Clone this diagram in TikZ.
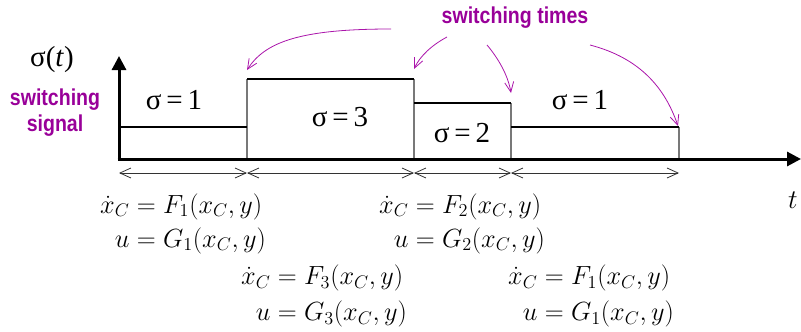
\documentclass[tikz,border=0pt]{standalone}
\usepackage{amsmath}
\usepackage{graphicx}
\usepackage[no-math]{fontspec}
\newfontfamily\serifT{Liberation Serif}
\newfontfamily\narrowsans[FakeStretch=0.85]{Liberation Sans}
\usetikzlibrary{arrows.meta}
\definecolor{sigpurple}{RGB}{153,0,153}
\definecolor{arrpurple}{RGB}{170,20,170}
\definecolor{vgray}{RGB}{120,120,120}
\newcommand{\eqpair}[2]{\scalebox{1.267}{\fontsize{20}{23.8}\selectfont$\begin{aligned}\dot x_C &= F_{#1}(x_C,y)\\[#2] u &= G_{#1}(x_C,y)\end{aligned}$}}
\tikzset{
  axisline/.style={line width=3pt,-{Triangle[length=14pt,width=14pt]}},
  levelline/.style={line width=2.6pt,line cap=butt},
  edgeline/.style={line width=1.6pt,vgray},
  spanline/.style={line width=0.8pt,black!80,{Straight Barb[length=11pt,width=10pt]}-{Straight Barb[length=11pt,width=10pt]}},
  tarrow/.style={line width=0.8pt,arrpurple,-{Straight Barb[length=10pt,width=9pt]}},
  purpletext/.style={font=\narrowsans\bfseries\fontsize{23}{25}\selectfont,text=sigpurple,align=center,inner sep=0pt},
  sigmalabel/.style={font=\serifT\fontsize{29}{31}\selectfont,inner sep=0pt},
  eqn/.style={inner sep=0pt,anchor=west}
}
\begin{document}
\begin{tikzpicture}[x=1pt,y=-1pt]
\useasboundingbox (0,0) rectangle (801,332);
% switching instants on the time axis
\coordinate (s0) at (119,159);
\coordinate (s1) at (247,159);
\coordinate (s2) at (414,159);
\coordinate (s3) at (511,159);
\coordinate (s4) at (679,159);
% levels
\coordinate (l0a) at (119,127); \coordinate (l0b) at (247,127);
\coordinate (l1a) at (247,79);  \coordinate (l1b) at (414,79);
\coordinate (l2a) at (414,103); \coordinate (l2b) at (511,103);
\coordinate (l3a) at (511,127); \coordinate (l3b) at (679,127);
% vertical edges
\draw[edgeline] (s1) -- (l1a);
\draw[edgeline] (s2) -- (l1b);
\draw[edgeline] (s3) -- (l2b);
\draw[edgeline] (s4) -- (l3b);
% horizontal levels
\draw[levelline] (l0a) -- (l0b);
\draw[levelline] (l1a) -- (l1b);
\draw[levelline] (l2a) -- (l2b);
\draw[levelline] (l3a) -- (l3b);
% axes
\coordinate (ytip) at (119,56);
\coordinate (xtip) at (801,159);
\coordinate (corner) at (119,160.5);
\coordinate (cornerx) at (117.5,159);
\draw[axisline] (corner) -- (ytip);
\draw[axisline] (cornerx) -- (xtip);
% interval spans
\coordinate (i0) at (119,173);
\coordinate (i1) at (247,173);
\coordinate (i2) at (414,173);
\coordinate (i3) at (511,173);
\coordinate (i4) at (679,173);
\draw[spanline] (i0) -- (i1);
\draw[spanline] (i1) -- (i2);
\draw[spanline] (i2) -- (i3);
\draw[spanline] (i3) -- (i4);
% labels
\node[sigmalabel] (sigt) at (52,60) {σ(\textit{t})};
\node[purpletext] (sigsig) at (55,113) {switching\\[1pt]signal};
\node[purpletext] (swt) at (515,18) {switching times};
\node[sigmalabel] (lab1) at (174,100) {σ\,=\,1};
\node[sigmalabel] (lab3) at (340,117) {σ\,=\,3};
\node[sigmalabel] (lab2) at (462,133) {σ\,=\,2};
\node[sigmalabel] (lab4) at (580,100) {σ\,=\,1};
\node[inner sep=0pt] (tl) at (793,200) {\scalebox{1.3}{\fontsize{20}{22}\selectfont$t$}};
% purple arrows
\coordinate (a1s) at (391,29);
\coordinate (a2s) at (447,37);
\coordinate (a3s) at (487,45);
\coordinate (a4s) at (590,45);
\coordinate (a1e) at (247,70);
\coordinate (a2e) at (414,69);
\coordinate (a3e) at (511,93);
\coordinate (a4e) at (678,126);
\draw[tarrow] (a1s) .. controls (300,29) and (265,42) .. (a1e);
\draw[tarrow] (a2s) .. controls (432,45) and (420,56) .. (a2e);
\draw[tarrow] (a3s) .. controls (498,58) and (508,75) .. (a3e);
\draw[tarrow] (a4s) .. controls (640,58) and (665,88) .. (a4e);
% equations
\node[eqn] (e1) at (100,224) {\eqpair{1}{0pt}};
\node[eqn] (e2) at (379,224) {\eqpair{2}{0pt}};
\node[eqn] (e3) at (241,296.5) {\eqpair{3}{2.2pt}};
\node[eqn] (e4) at (508,296.5) {\eqpair{1}{2.2pt}};
\end{tikzpicture}
\end{document}
